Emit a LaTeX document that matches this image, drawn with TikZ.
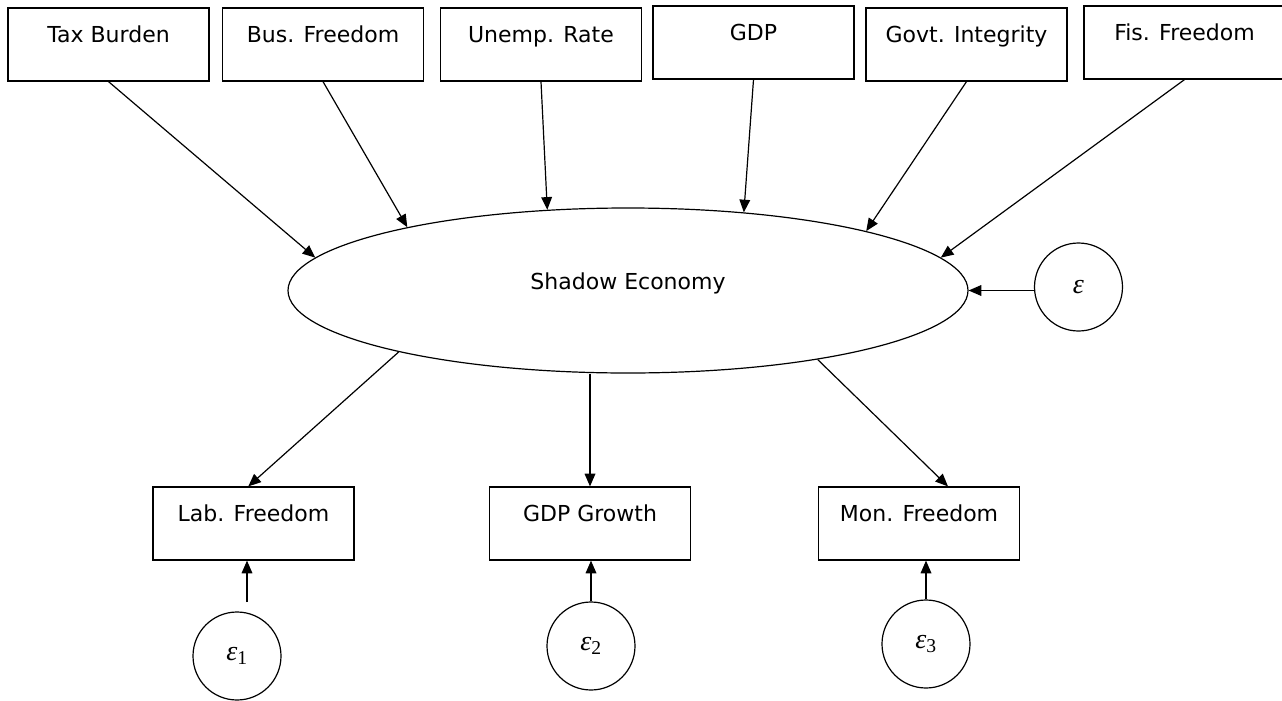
\documentclass[tikz,border=0pt]{standalone}
\usepackage{amsmath}
\usepackage{fontspec}
\setmainfont{DejaVu Sans}
\newfontfamily\epsfont{Liberation Serif}
\usepackage{tikz}
\usetikzlibrary{arrows.meta,shapes.geometric}

\begin{document}
\begin{tikzpicture}[x=0.75pt,y=-0.75pt,>={Triangle[length=9.5pt,width=8pt]},
	varbox/.style={rectangle,draw,line width=0.9pt,minimum width=150.75pt,minimum height=54.75pt,
		inner sep=0pt,text height=25.5pt,text depth=29.25pt,font=\fontsize{16.5}{19}\selectfont},
	errcirc/.style={circle,draw,line width=0.9pt,minimum size=66pt,inner sep=0pt,
		font=\epsfont\itshape\fontsize{21}{24}\selectfont},
	link/.style={->,line width=0.9pt}]
	\useasboundingbox (0,0) rectangle (1282,700);

	% causes
	\foreach \n/\x/\y/\name in {tax/108.5/44.5/Tax Burden,bus/323/44.5/Bus. Freedom,
		unemp/541/44.5/Unemp. Rate,gdp/753.5/42.5/GDP,govt/966.5/44.5/Govt. Integrity,
		fis/1184.5/42.5/Fis. Freedom}{
		\node[varbox] (\n) at (\x,\y){\name};
	}

	\node[ellipse,draw,line width=0.9pt,minimum width=510pt,minimum height=123.75pt,inner sep=0pt,
		text height=12pt,text depth=13pt,font=\fontsize{16.5}{19}\selectfont] 
	(econ) at (628,290.5){Shadow Economy};

	\node[errcirc] (eps) at (1078.5,287){ε};

	% indicators
	\foreach \n/\x/\name in {lab/253.5/Lab. Freedom,growth/590/GDP Growth,mon/919/Mon. Freedom}{
		\node[varbox] (\n) at (\x,523.5){\name};
	}

	\foreach \n/\x/\y/\s in {e1/237/656/1,e2/591/646/2,e3/926/644/3}{
		\node[errcirc] (\n) at (\x,\y){ε\textsubscript{\upshape\s}};
	}

	\foreach \n/\a in {tax/174.4,bus/164.9,unemp/135.5,gdp/34,govt/14,fis/6.2}{
		\draw[link] (\n.south)--(econ.\a);
	}
	\draw[link] (eps.west |- econ.east)--(econ.east);

	\draw[link] (econ.195.7)--(lab.98.6);
	\draw[link] (growth.north |- econ.south)--(growth.north);
	\draw[link] (econ.340.2)--(mon.52.5);

	\coordinate (e1top) at (247,602);
	\draw[link] (e1top)--(e1top |- lab.south);
	\draw[link] (e2.north)--(e2.north |- growth.south);
	\draw[link] (e3.north)--(e3.north |- mon.south);
\end{tikzpicture}
\end{document}
